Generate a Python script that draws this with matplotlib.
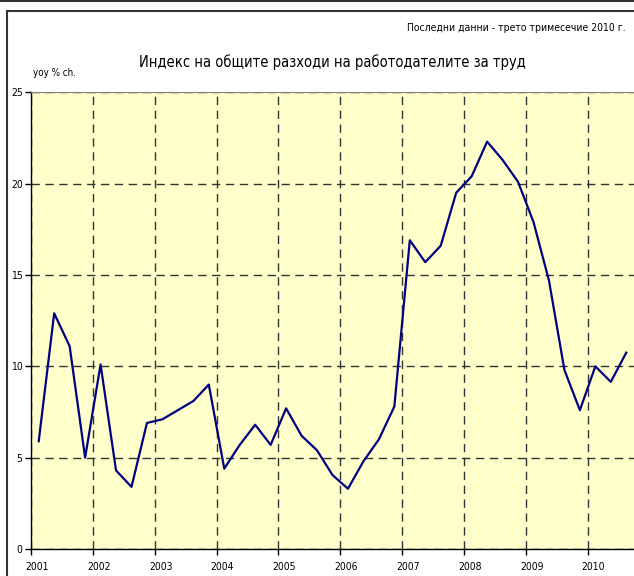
import matplotlib
matplotlib.use('Agg')
import matplotlib.pyplot as plt
import matplotlib.transforms as mtransforms
from matplotlib.patches import Rectangle
from matplotlib.lines import Line2D

# Данни: тримесечни темпове (yoy %), 2001 Q1 - 2010 Q3
years = list(range(2001, 2011))
quarters_per_year = [4, 4, 4, 4, 4, 4, 4, 4, 4, 3]
values = [
    5.9, 12.9, 11.1, 5.0,
    10.1, 4.3, 3.4, 6.9,
    7.1, 7.6, 8.1, 9.0,
    4.4, 5.7, 6.8, 5.7,
    7.7, 6.2, 5.4, 4.05,
    3.3, 4.8, 6.0, 7.8,
    16.9, 15.7, 16.6, 19.5,
    20.4, 22.3, 21.3, 20.1,
    17.9, 14.7, 9.8, 7.6,
    10.0, 9.15, 10.75,
]
y_ticks = [0, 5, 10, 15, 20, 25]

title = 'Индекс на общите разходи на работодателите за труд'
subtitle = 'Последни данни - трето тримесечие 2010 г.'
unit = 'yoy % ch.'

# позиции: средата на всяко тримесечие
x = []
for yr, nq in zip(years, quarters_per_year):
    for q in range(nq):
        x.append(yr + (q + 0.5) / 4)

plt.rcParams['font.family'] = ['DejaVu Sans']
plt.rcParams['font.stretch'] = 'condensed'

fig = plt.figure(figsize=(6.34, 5.76), dpi=100)
ax = fig.add_axes([31 / 634, 1 - 549 / 576, 1 - 31 / 634, (549 - 92.3) / 576])

ax.set_facecolor('#FFFFCC')
ax.plot(x, values, color='#000080', linewidth=1.6, zorder=3)

ax.set_xlim(2001, 2010.75)
ax.set_ylim(0, 25)
ax.set_xticks(years)
ax.set_xticklabels([str(y) for y in years])
ax.set_yticks(y_ticks)
ax.grid(True, color='#333333', linestyle=(0, (6, 4)), linewidth=1.0)
ax.tick_params(axis='both', labelsize=7.5, length=4, width=1, color='black')
ax.tick_params(axis='x', pad=5)
ax.tick_params(axis='y', pad=2)

# подписите на годините са леко изместени надясно
shift = mtransforms.ScaledTranslation(6 / 100, 0, fig.dpi_scale_trans)
for lbl in ax.get_xticklabels():
    lbl.set_transform(lbl.get_transform() + shift)

for side in ['left', 'bottom']:
    ax.spines[side].set_color('black')
    ax.spines[side].set_linewidth(1.0)
ax.spines['top'].set_color('#808080')
ax.spines['right'].set_visible(False)

# рамки около графиката
fig.add_artist(Line2D([0, 1], [1 - 0.8 / 576, 1 - 0.8 / 576],
                      transform=fig.transFigure, color='#333333', linewidth=1.5))
fig.add_artist(Rectangle((6.5 / 634, -0.05), 1.0, 1 - 11 / 576 + 0.05,
                         transform=fig.transFigure, fill=False,
                         edgecolor='#333333', linewidth=1.5))

fig.text(626 / 634, 1 - 28 / 576, subtitle, ha='right', va='center', fontsize=7.5)
fig.text(332 / 634, 1 - 62 / 576, title, ha='center', va='center', fontsize=10.5)
fig.text(33 / 634, 1 - 73 / 576, unit, ha='left', va='center', fontsize=7)

fig.savefig('out.png', dpi=100)
